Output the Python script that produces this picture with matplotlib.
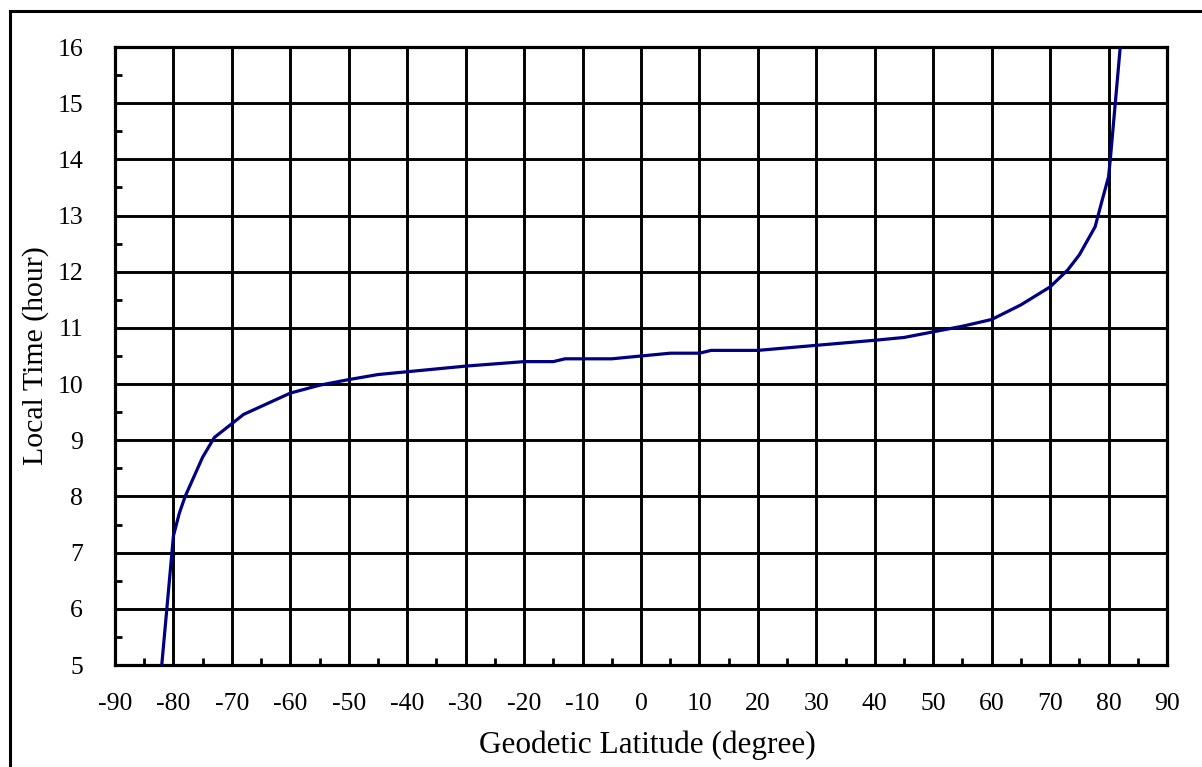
import matplotlib
matplotlib.use("Agg")
import matplotlib.pyplot as plt
from matplotlib.ticker import MultipleLocator
from matplotlib.lines import Line2D

lat = [-82, -80, -79, -78, -75, -73, -68, -60, -55, -50, -45, -40, -30, -20,
       -15, -13, -5, 0, 5, 10, 12, 20, 30, 40, 45, 50, 55, 60, 65, 70, 73, 75,
       77.7, 79, 80, 80.3, 82]
local_time = [5.0, 7.3, 7.7, 8.0, 8.7, 9.05, 9.46, 9.84, 9.98, 10.08, 10.17,
              10.22, 10.32, 10.4, 10.4, 10.45, 10.45, 10.5, 10.55, 10.55, 10.6,
              10.6, 10.69, 10.78, 10.83, 10.93, 11.03, 11.15, 11.41, 11.73,
              12.03, 12.3, 12.8, 13.31, 13.69, 14.0, 16.0]
xticks = list(range(-90, 91, 10))
yticks = list(range(5, 17))

plt.rcParams['font.family'] = ['Liberation Serif', 'DejaVu Serif']
plt.rcParams['axes.unicode_minus'] = False

fig = plt.figure(figsize=(12.02, 7.67), dpi=100)
ax = fig.add_axes([115/1202, 102/767, 1052/1202, 618/767])

ax.plot(lat, local_time, color='#000080', lw=2.3, zorder=3)

ax.set_xlim(-90, 90)
ax.set_ylim(5, 16)
ax.set_xticks(xticks)
ax.set_yticks(yticks)
ax.xaxis.set_minor_locator(MultipleLocator(5))
ax.yaxis.set_minor_locator(MultipleLocator(0.5))
ax.tick_params(axis='both', which='major', direction='in', length=0, labelsize=18.5)
ax.tick_params(axis='x', which='major', pad=20)
ax.tick_params(axis='y', which='major', pad=23)
ax.tick_params(axis='both', which='minor', direction='in', length=5, width=2)
ax.grid(True, which='major', color='black', lw=2.1, zorder=1)
ax.set_axisbelow(True)
for s in ax.spines.values():
    s.set_linewidth(2.3)
    s.set_color('black')

fig.text(647/1202, 1 - 745/767, 'Geodetic Latitude (degree)', ha='center',
         va='center', fontsize=22.5)
fig.text(36/1202, 1 - 356/767, 'Local Time (hour)', ha='center', va='center',
         rotation=90, fontsize=21.5)

# outer frame (left and top edges visible)
fig.add_artist(Line2D([9.5/1202, 9.5/1202], [0, 1 - 11/767], color='black',
                      lw=2.2, transform=fig.transFigure))
fig.add_artist(Line2D([9.5/1202, 1.0], [1 - 11/767, 1 - 11/767], color='black',
                      lw=2.2, transform=fig.transFigure))

fig.savefig('out.png', dpi=100)
